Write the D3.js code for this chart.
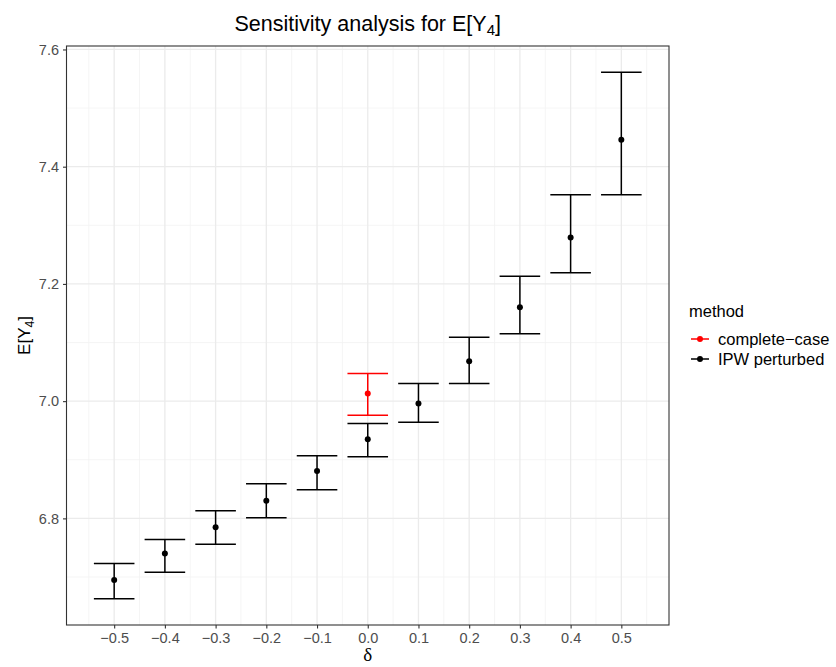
<!DOCTYPE html>
<html>
<head>
<meta charset="utf-8">
<script src="https://cdn.jsdelivr.net/npm/d3@7"></script>
<style>
  body { margin: 0; background: #fff; }
  text { font-family: "Liberation Sans", Arial, sans-serif; }
</style>
</head>
<body>
<script>
(function(){

    //data
    var deltas = [-0.5, -0.4, -0.3, -0.2, -0.1, 0.0, 0.1, 0.2, 0.3, 0.4, 0.5];
    var ipwEst = [6.695, 6.740, 6.785, 6.830, 6.881, 6.935, 6.996, 7.068, 7.160, 7.279, 7.446];
    var ipwLow = [6.663, 6.708, 6.756, 6.801, 6.849, 6.905, 6.964, 7.030, 7.115, 7.219, 7.352];
    var ipwUpp = [6.723, 6.764, 6.813, 6.859, 6.907, 6.962, 7.030, 7.109, 7.213, 7.352, 7.561];
    var ccDelta = [0.0];
    var ccEst = [7.013];
    var ccLow = [6.976];
    var ccUpp = [7.047];
    var methods = ["complete\u2212case", "IPW perturbed"];
    var methodColors = ["#FF0000", "#000000"];
    var xTicks = [-0.5, -0.4, -0.3, -0.2, -0.1, 0.0, 0.1, 0.2, 0.3, 0.4, 0.5];
    var yTicks = [6.8, 7.0, 7.2, 7.4, 7.6];

    var width = 836, height = 667;
    var panel = {left: 66.5, right: 669, top: 46, bottom: 625};

    var svg = d3.select("body").append("svg")
        .attr("width", width)
        .attr("height", height);

    //build rows for each method
    var rows = [];
    deltas.forEach(function(d, i){
        rows.push({method: methods[1], x: d, y: ipwEst[i], lo: ipwLow[i], hi: ipwUpp[i]});
    });
    ccDelta.forEach(function(d, i){
        rows.push({method: methods[0], x: d, y: ccEst[i], lo: ccLow[i], hi: ccUpp[i]});
    });

    var color = d3.scaleOrdinal().domain(methods).range(methodColors);

    //ggplot style 5% expansion
    var barHalf = 0.04;
    var xMin = d3.min(deltas) - barHalf, xMax = d3.max(deltas) + barHalf;
    var xPad = (xMax - xMin) * 0.05;
    var x = d3.scaleLinear()
        .domain([xMin - xPad, xMax + xPad])
        .range([panel.left, panel.right]);

    var yMin = d3.min(rows, function(d){ return d.lo; }),
        yMax = d3.max(rows, function(d){ return d.hi; });
    var yPad = (yMax - yMin) * 0.05;
    var y = d3.scaleLinear()
        .domain([yMin - yPad, yMax + yPad])
        .range([panel.bottom, panel.top]);

    //minor gridlines
    var xMinor = xTicks.map(function(t){ return t + 0.05; }).concat([xTicks[0] - 0.05]);
    var yMinor = [6.7, 6.9, 7.1, 7.3, 7.5];
    var grid = svg.append("g");
    grid.selectAll(".xminor").data(xMinor).enter().append("line")
        .attr("x1", function(d){ return x(d); }).attr("x2", function(d){ return x(d); })
        .attr("y1", panel.top).attr("y2", panel.bottom)
        .attr("stroke", "#F2F2F2").attr("stroke-width", 0.8);
    grid.selectAll(".yminor").data(yMinor).enter().append("line")
        .attr("y1", function(d){ return y(d); }).attr("y2", function(d){ return y(d); })
        .attr("x1", panel.left).attr("x2", panel.right)
        .attr("stroke", "#F2F2F2").attr("stroke-width", 0.8);
    //major gridlines
    grid.selectAll(".xmajor").data(xTicks).enter().append("line")
        .attr("x1", function(d){ return x(d); }).attr("x2", function(d){ return x(d); })
        .attr("y1", panel.top).attr("y2", panel.bottom)
        .attr("stroke", "#EBEBEB").attr("stroke-width", 1.3);
    grid.selectAll(".ymajor").data(yTicks).enter().append("line")
        .attr("y1", function(d){ return y(d); }).attr("y2", function(d){ return y(d); })
        .attr("x1", panel.left).attr("x2", panel.right)
        .attr("stroke", "#EBEBEB").attr("stroke-width", 1.3);

    //error bars
    var bars = svg.append("g").selectAll(".bar")
        .data(rows)
        .enter()
        .append("g")
        .attr("stroke", function(d){ return color(d.method); })
        .attr("stroke-width", 1.5);
    bars.append("line")
        .attr("x1", function(d){ return x(d.x); }).attr("x2", function(d){ return x(d.x); })
        .attr("y1", function(d){ return y(d.lo); }).attr("y2", function(d){ return y(d.hi); });
    bars.append("line")
        .attr("x1", function(d){ return x(d.x - barHalf); }).attr("x2", function(d){ return x(d.x + barHalf); })
        .attr("y1", function(d){ return y(d.lo); }).attr("y2", function(d){ return y(d.lo); });
    bars.append("line")
        .attr("x1", function(d){ return x(d.x - barHalf); }).attr("x2", function(d){ return x(d.x + barHalf); })
        .attr("y1", function(d){ return y(d.hi); }).attr("y2", function(d){ return y(d.hi); });

    //points
    svg.append("g").selectAll("circle")
        .data(rows)
        .enter()
        .append("circle")
        .attr("cx", function(d){ return x(d.x); })
        .attr("cy", function(d){ return y(d.y); })
        .attr("r", 3)
        .attr("fill", function(d){ return color(d.method); });

    //panel border
    svg.append("rect")
        .attr("x", panel.left).attr("y", panel.top)
        .attr("width", panel.right - panel.left)
        .attr("height", panel.bottom - panel.top)
        .attr("fill", "none")
        .attr("stroke", "#333333")
        .attr("stroke-width", 1.1);

    //axes
    var xAxis = d3.axisBottom(x)
        .tickValues(xTicks)
        .tickSize(3.5)
        .tickPadding(4)
        .tickFormat(function(d){ return d3.format(".1f")(d).replace("-", "\u2212"); });
    var gx = svg.append("g")
        .attr("transform", "translate(0," + panel.bottom + ")")
        .call(xAxis);

    var yAxis = d3.axisLeft(y)
        .tickValues(yTicks)
        .tickSize(3.5)
        .tickPadding(4)
        .tickFormat(d3.format(".1f"));
    var gy = svg.append("g")
        .attr("transform", "translate(" + panel.left + ",0)")
        .call(yAxis);

    [gx, gy].forEach(function(g){
        g.select(".domain").remove();
        g.selectAll(".tick line").attr("stroke", "#333333").attr("stroke-width", 1.1);
        g.selectAll(".tick text")
            .attr("fill", "#4D4D4D")
            .style("font-size", "14.5px")
            .style("font-family", "'Liberation Sans', Arial, sans-serif");
    });

    //title
    var title = svg.append("text")
        .attr("x", (panel.left + panel.right) / 2)
        .attr("y", 31)
        .attr("text-anchor", "middle")
        .style("font-size", "21.5px")
        .attr("fill", "#000");
    title.append("tspan").text("Sensitivity analysis for E[Y");
    title.append("tspan").attr("dy", 4).style("font-size", "15px").text("4");
    title.append("tspan").attr("dy", -4).text("]");

    //y axis title
    var yLab = svg.append("text")
        .attr("transform", "translate(30," + ((panel.top + panel.bottom) / 2) + ") rotate(-90)")
        .attr("text-anchor", "middle")
        .style("font-size", "17px")
        .attr("fill", "#000");
    yLab.append("tspan").text("E[Y");
    yLab.append("tspan").attr("dy", 4).style("font-size", "12px").text("4");
    yLab.append("tspan").attr("dy", -4).text("]");

    //x axis title
    svg.append("text")
        .attr("x", (panel.left + panel.right) / 2)
        .attr("y", 661)
        .attr("text-anchor", "middle")
        .style("font-size", "19px")
        .style("font-family", "'Liberation Serif', 'Times New Roman', serif")
        .attr("fill", "#000")
        .text("\u03b4");

    //legend
    var legend = svg.append("g").attr("transform", "translate(688,0)");
    legend.append("text")
        .attr("x", 1).attr("y", 317)
        .style("font-size", "16.5px")
        .text("method");
    var items = legend.selectAll(".item")
        .data(methods)
        .enter()
        .append("g")
        .attr("transform", function(d, i){ return "translate(0," + (339 + i * 20) + ")"; });
    items.append("line")
        .attr("x1", 3).attr("x2", 21)
        .attr("stroke", function(d){ return color(d); })
        .attr("stroke-width", 1.5);
    items.append("circle")
        .attr("cx", 12).attr("r", 3)
        .attr("fill", function(d){ return color(d); });
    items.append("text")
        .attr("x", 30).attr("y", 6)
        .style("font-size", "16.5px")
        .text(function(d){ return d; });

})();
</script>
</body>
</html>
